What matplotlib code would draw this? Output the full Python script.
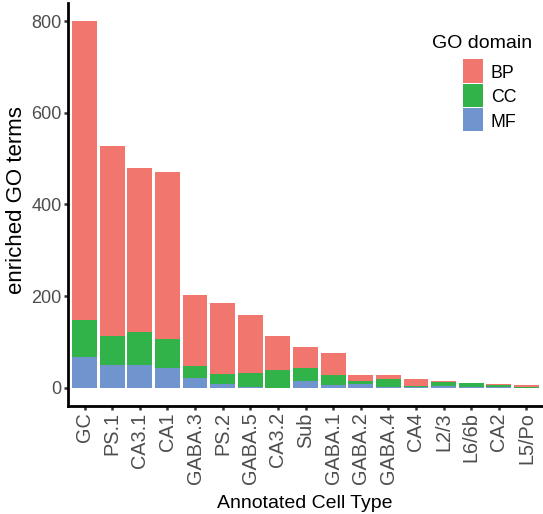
import matplotlib
matplotlib.use("Agg")
import matplotlib.pyplot as plt
from matplotlib.patches import Rectangle
import numpy as np

plt.rcParams['font.family'] = ['Liberation Sans', 'DejaVu Sans']

cell_types = ["GC", "PS.1", "CA3.1", "CA1", "GABA.3", "PS.2", "GABA.5", "CA3.2", "Sub",
              "GABA.1", "GABA.2", "GABA.4", "CA4", "L2/3", "L6/6b", "CA2", "L5/Po"]
mf = [68, 49, 49, 44, 22, 8, 1, 0, 14, 5, 8, 1, 1, 3, 1, 1, 0]
cc = [79, 63, 72, 62, 25, 21, 32, 38, 28, 22, 6, 17, 2, 9, 9, 4, 2]
bp = [653, 415, 358, 364, 155, 155, 125, 74, 46, 48, 13, 9, 15, 2, 0, 3, 4]
domains = ["BP", "CC", "MF"]
colors = {"BP": "#F1766D", "CC": "#32B34A", "MF": "#7094CE"}

W, H = 543, 514
fig = plt.figure(figsize=(W / 100, H / 100), dpi=100)
ax = fig.add_axes([68 / W, 108 / H, 1 - 68 / W, (406 - 2.7) / H])


def fx(px):
    return px / W


def fy(py):
    return 1 - py / H


x = np.arange(len(cell_types))
mf_a = np.array(mf); cc_a = np.array(cc); bp_a = np.array(bp)
ax.bar(x, mf_a, width=0.9, color=colors["MF"], linewidth=0)
ax.bar(x, cc_a, width=0.9, bottom=mf_a, color=colors["CC"], linewidth=0)
ax.bar(x, bp_a, width=0.9, bottom=mf_a + cc_a, color=colors["BP"], linewidth=0)

ax.set_xlim(-0.6, len(cell_types) - 0.4)
ax.set_ylim(-40, 840)
ax.set_yticks([0, 200, 400, 600, 800])
ax.set_xticks(x)
ax.set_xticklabels(cell_types, rotation=90, ha="center", va="top", fontsize=14.3)
ax.tick_params(axis="y", labelsize=13)

for s in ["top", "right"]:
    ax.spines[s].set_visible(False)
for s in ["left", "bottom"]:
    ax.spines[s].set_linewidth(2.0)
    ax.spines[s].set_color("black")
ax.tick_params(axis="both", colors="#333333", labelcolor="#4D4D4D",
               length=3, width=1.8, pad=1.5)

# axis titles
fig.text(fx(305), fy(508), "Annotated Cell Type", fontsize=14, color="black",
         ha="center", va="baseline")
fig.text(fx(17), fy(200), "enriched GO terms", fontsize=16, color="black",
         ha="center", va="center", rotation=90)

# legend
fig.text(fx(432), fy(48.5), "GO domain", fontsize=14, color="black",
         ha="left", va="baseline")
key_tops = [59.3, 83.8, 108.0]
key_h = 23.2
for d, top in zip(domains, key_tops):
    fig.patches.append(Rectangle((fx(462.7), fy(top + key_h)), (483.3 - 462.7) / W, key_h / H,
                                 transform=fig.transFigure, facecolor=colors[d],
                                 edgecolor="none"))
    fig.text(fx(490.7), fy(top + key_h / 2 + 0.5), d, fontsize=12.8, color="black",
             ha="left", va="center_baseline")

fig.savefig("out.png", dpi=100)
